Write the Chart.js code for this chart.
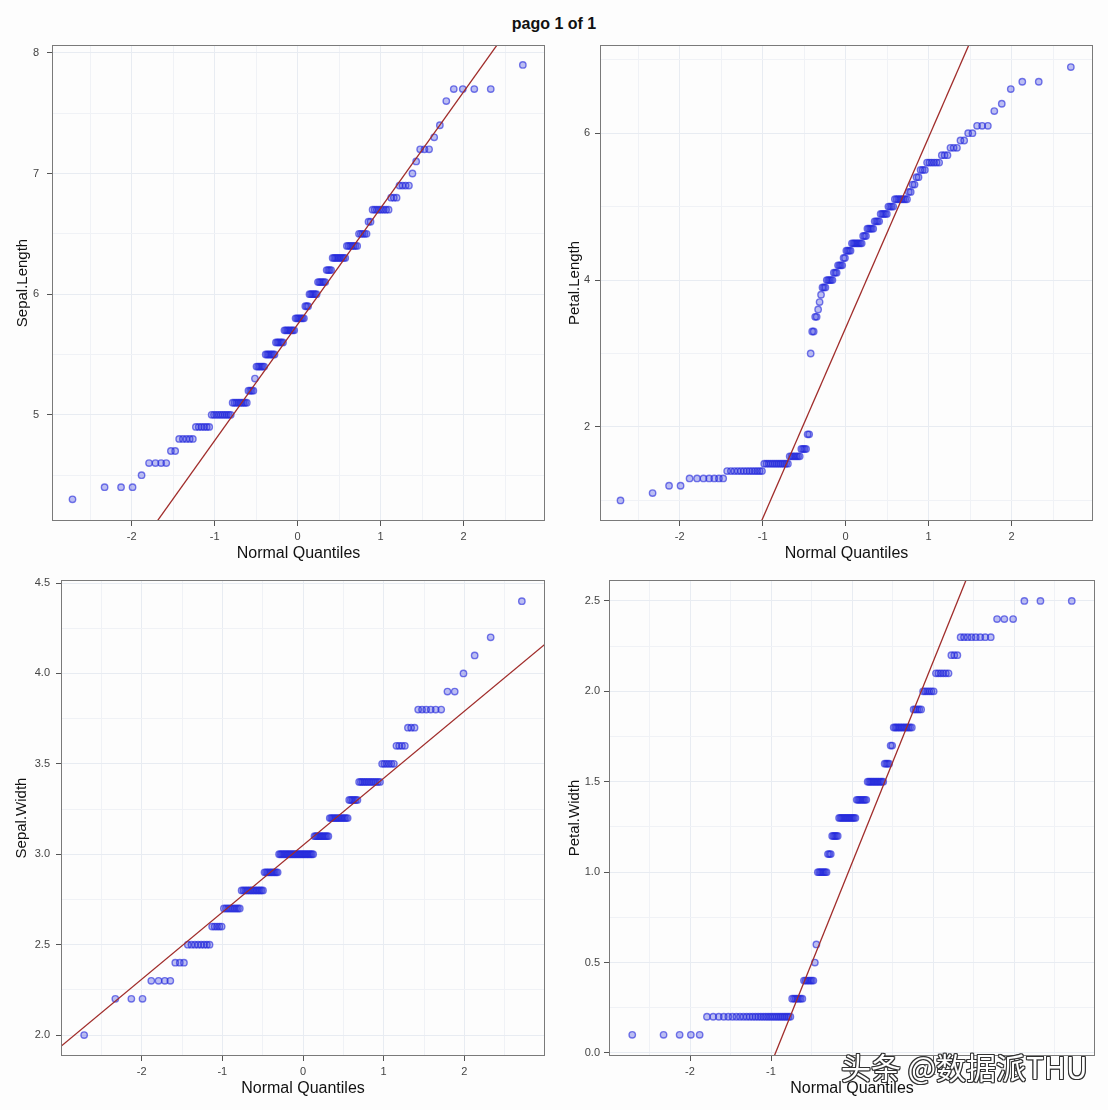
<!DOCTYPE html>
<html><head><meta charset="utf-8">
<script src="https://cdn.jsdelivr.net/npm/chart.js@4.4.1/dist/chart.umd.min.js"></script>
<style>
html,body{margin:0;padding:0;background:#fdfdfd;width:1108px;height:1110px;overflow:hidden;font-family:"Liberation Sans",Arial,sans-serif}
#title{position:absolute;left:0;top:15px;width:1108px;text-align:center;font-weight:bold;font-size:16px;color:#111}
.panel{position:absolute}
#wm{position:absolute;left:841px;top:1046px;font-family:"Noto Sans CJK SC",sans-serif;font-size:30px;line-height:40px;color:#fff;white-space:nowrap;
text-shadow:1px 0 0 #333,-1px 0 0 #333,0 1px 0 #333,0 -1px 0 #333,1px 1px 0 #333,-1px -1px 0 #333,1px -1px 0 #333,-1px 1px 0 #333}
</style></head>
<body>
<div id="title">pago 1 of 1</div>
<canvas id="c1" class="panel" width="555" height="540" style="left:0;top:35px"></canvas>
<canvas id="c2" class="panel" width="553" height="540" style="left:555px;top:35px"></canvas>
<canvas id="c3" class="panel" width="555" height="540" style="left:0;top:570px"></canvas>
<canvas id="c4" class="panel" width="553" height="540" style="left:555px;top:570px"></canvas>
<div id="wm">头条 @数据派THU</div>
<script>
// ---- data (iris measurements, sorted values with their counts) ----
const sepalLengthValues = [4.3,4.4,4.5,4.6,4.7,4.8,4.9,5.0,5.1,5.2,5.3,5.4,5.5,5.6,5.7,5.8,5.9,6.0,6.1,6.2,6.3,6.4,6.5,6.6,6.7,6.8,6.9,7.0,7.1,7.2,7.3,7.4,7.6,7.7,7.9];
const sepalLengthCounts = [1,3,1,4,2,5,6,10,9,4,1,6,7,6,8,7,3,6,6,4,9,7,5,2,8,3,4,1,1,3,1,1,1,4,1];
const petalLengthValues = [1.0,1.1,1.2,1.3,1.4,1.5,1.6,1.7,1.9,3.0,3.3,3.5,3.6,3.7,3.8,3.9,4.0,4.1,4.2,4.3,4.4,4.5,4.6,4.7,4.8,4.9,5.0,5.1,5.2,5.3,5.4,5.5,5.6,5.7,5.8,5.9,6.0,6.1,6.3,6.4,6.6,6.7,6.9];
const petalLengthCounts = [1,1,2,7,13,13,7,4,2,1,2,2,1,1,1,3,5,3,4,2,4,8,3,5,4,5,4,8,2,2,2,3,6,3,3,2,2,3,1,1,1,2,1];
const sepalWidthValues = [2.0,2.2,2.3,2.4,2.5,2.6,2.7,2.8,2.9,3.0,3.1,3.2,3.3,3.4,3.5,3.6,3.7,3.8,3.9,4.0,4.1,4.2,4.4];
const sepalWidthCounts = [1,3,4,3,8,5,9,14,10,26,11,13,6,12,6,4,3,6,2,1,1,1,1];
const petalWidthValues = [0.1,0.2,0.3,0.4,0.5,0.6,1.0,1.1,1.2,1.3,1.4,1.5,1.6,1.7,1.8,1.9,2.0,2.1,2.2,2.3,2.4,2.5];
const petalWidthCounts = [5,29,7,7,1,1,7,3,5,13,8,12,4,2,12,5,6,6,3,8,3,3];

// ---- tick / grid values ----
const xGridValues = [-2.5,-2,-1.5,-1,-0.5,0,0.5,1,1.5,2,2.5];
const xTickValues = [-2,-1,0,1,2];
const xTickLabels = ['-2','-1','0','1','2'];
const sepalLengthGrid = [4.5,5,5.5,6,6.5,7,7.5,8];
const sepalLengthTicks = [5,6,7,8];
const sepalLengthTickLabels = ['5','6','7','8'];
const petalLengthGrid = [1,2,3,4,5,6,7];
const petalLengthTicks = [2,4,6];
const petalLengthTickLabels = ['2','4','6'];
const sepalWidthGrid = [2,2.25,2.5,2.75,3,3.25,3.5,3.75,4,4.25,4.5];
const sepalWidthTicks = [2,2.5,3,3.5,4,4.5];
const sepalWidthTickLabels = ['2.0','2.5','3.0','3.5','4.0','4.5'];
const petalWidthGrid = [0,0.25,0.5,0.75,1,1.25,1.5,1.75,2,2.25,2.5];
const petalWidthTicks = [0,0.5,1,1.5,2,2.5];
const petalWidthTickLabels = ['0.0','0.5','1.0','1.5','2.0','2.5'];

// ---- normal quantile function (QQ-plot theoretical axis) ----
function qnorm(p){
  const a=[-3.969683028665376e+01,2.209460984245205e+02,-2.759285104469687e+02,1.383577518672690e+02,-3.066479806614716e+01,2.506628277459239e+00];
  const b=[-5.447609879822406e+01,1.615858368580409e+02,-1.556989798598866e+02,6.680131188771972e+01,-1.328068155288572e+01];
  const c=[-7.784894002430293e-03,-3.223964580411365e-01,-2.400758277161838e+00,-2.549732539343734e+00,4.374664141464968e+00,2.938163982698783e+00];
  const d=[7.784695709041462e-03,3.224671290700398e-01,2.445134137142996e+00,3.754408661907416e+00];
  const pl=0.02425, ph=1-pl; let q,r;
  if(p<pl){q=Math.sqrt(-2*Math.log(p));return (((((c[0]*q+c[1])*q+c[2])*q+c[3])*q+c[4])*q+c[5])/((((d[0]*q+d[1])*q+d[2])*q+d[3])*q+1);}
  if(p<=ph){q=p-0.5;r=q*q;return (((((a[0]*r+a[1])*r+a[2])*r+a[3])*r+a[4])*r+a[5])*q/(((((b[0]*r+b[1])*r+b[2])*r+b[3])*r+b[4])*r+1);}
  q=Math.sqrt(-2*Math.log(1-p));return -(((((c[0]*q+c[1])*q+c[2])*q+c[3])*q+c[4])*q+c[5])/((((d[0]*q+d[1])*q+d[2])*q+d[3])*q+1);
}
function expand(values, counts){ const out=[]; values.forEach((v,i)=>{for(let k=0;k<counts[i];k++) out.push(v);}); return out; }
function quantile7(sorted,p){ const h=(sorted.length-1)*p, lo=Math.floor(h); return sorted[lo]+(h-lo)*((sorted[Math.min(lo+1,sorted.length-1)])-sorted[lo]); }

const frame = { id:'frame', afterDatasetsDraw(chart){ const {ctx, chartArea:a}=chart; ctx.save(); ctx.strokeStyle='#7a7a7a'; ctx.lineWidth=1;
  ctx.strokeRect(Math.round(a.left)+0.5, Math.round(a.top)+0.5, Math.round(a.right-a.left)-1, Math.round(a.bottom-a.top)-1); ctx.restore(); } };

const isIn=(arr,v)=>arr.some(t=>Math.abs(t-v)<1e-9);

const panels = [
  {id:'c1', values:sepalLengthValues, counts:sepalLengthCounts, yTitle:'Sepal.Length', yGrid:sepalLengthGrid, yTicks:sepalLengthTicks, yLabels:sepalLengthTickLabels,
   xMin:-2.96, xMax:2.98, yMin:4.12, yMax:8.065, yw:52, padR:10, titlePad:14, tickPad:8},
  {id:'c2', values:petalLengthValues, counts:petalLengthCounts, yTitle:'Petal.Length', yGrid:petalLengthGrid, yTicks:petalLengthTicks, yLabels:petalLengthTickLabels,
   xMin:-2.96, xMax:2.98, yMin:0.72, yMax:7.2, yw:45, padR:15, titlePad:11, tickPad:5},
  {id:'c3', values:sepalWidthValues, counts:sepalWidthCounts, yTitle:'Sepal.Width', yGrid:sepalWidthGrid, yTicks:sepalWidthTicks, yLabels:sepalWidthTickLabels,
   xMin:-3.0, xMax:3.0, yMin:1.884, yMax:4.517, yw:61, padR:10, titlePad:13, tickPad:6},
  {id:'c4', values:petalWidthValues, counts:petalWidthCounts, yTitle:'Petal.Width', yGrid:petalWidthGrid, yTicks:petalWidthTicks, yLabels:petalWidthTickLabels,
   xMin:-3.0, xMax:3.0, yMin:-0.017, yMax:2.616, yw:54, padR:13, titlePad:11, tickPad:4}
];

panels.forEach(P=>{
  const sorted = expand(P.values, P.counts);
  const n = sorted.length;
  const pts = sorted.map((v,i)=>({x:qnorm((i+1-0.5)/n), y:v}));
  const zq = qnorm(0.75);
  const q1 = quantile7(sorted,0.25), q3 = quantile7(sorted,0.75);
  const slope = (q3-q1)/(2*zq), intercept = q1 + zq*slope;
  const line = [{x:P.xMin, y:intercept+slope*P.xMin},{x:P.xMax, y:intercept+slope*P.xMax}];
  new Chart(document.getElementById(P.id), {
    type:'scatter',
    data:{datasets:[
      {type:'line', data:line, borderColor:'#a02c2a', borderWidth:1.3, pointRadius:0, fill:false, clip:0, order:0},
      {data:pts, pointRadius:3.2, borderWidth:1.4, borderColor:'rgba(35,40,220,0.62)', backgroundColor:'rgba(40,45,220,0.3)', clip:false, order:1}
    ]},
    options:{
      responsive:false, animation:false, events:[],
      layout:{padding:{top:10, right:P.padR, left:0, bottom:0}},
      plugins:{legend:{display:false}, tooltip:{enabled:false}},
      scales:{
        x:{type:'linear', min:P.xMin, max:P.xMax,
          afterBuildTicks:(s)=>{ s.ticks = xGridValues.map(v=>({value:v})); },
          afterFit:(s)=>{ s.height = 54; s.paddingLeft = 0; s.paddingRight = 0; },
          border:{display:false},
          grid:{color:(c)=>isIn(xTickValues,c.tick.value)?'#e8ecf2':'#f0f2f6', lineWidth:1, tickLength:5,
                tickColor:(c)=>isIn(xTickValues,c.tick.value)?'#555':'rgba(0,0,0,0)'},
          ticks:{padding:4, color:'#444', font:{family:'Liberation Sans', size:11}, autoSkip:false, maxRotation:0,
                 callback:(v)=>{ const i=xTickValues.findIndex(t=>Math.abs(t-v)<1e-9); return i>=0?xTickLabels[i]:''; }},
          title:{display:true, text:'Normal Quantiles', color:'#111', font:{family:'Liberation Sans', size:16}, padding:{top:0,bottom:12}}
        },
        y:{type:'linear', min:P.yMin, max:P.yMax,
          afterBuildTicks:(s)=>{ s.ticks = P.yGrid.map(v=>({value:v})); },
          afterFit:(s)=>{ s.width = P.yw; s.paddingTop = 0; s.paddingBottom = 0; },
          border:{display:false},
          grid:{color:(c)=>isIn(P.yTicks,c.tick.value)?'#e8ecf2':'#f0f2f6', lineWidth:1, tickLength:5,
                tickColor:(c)=>isIn(P.yTicks,c.tick.value)?'#555':'rgba(0,0,0,0)'},
          ticks:{padding:P.tickPad, color:'#444', font:{family:'Liberation Sans', size:11}, autoSkip:false,
                 callback:(v)=>{ const i=P.yTicks.findIndex(t=>Math.abs(t-v)<1e-9); return i>=0?P.yLabels[i]:''; }},
          title:{display:true, text:P.yTitle, color:'#111', font:{family:'Liberation Sans', size:15}, padding:{top:P.titlePad,bottom:0}}
        }
      }
    },
    plugins:[frame]
  });
});
</script>
</body></html>
